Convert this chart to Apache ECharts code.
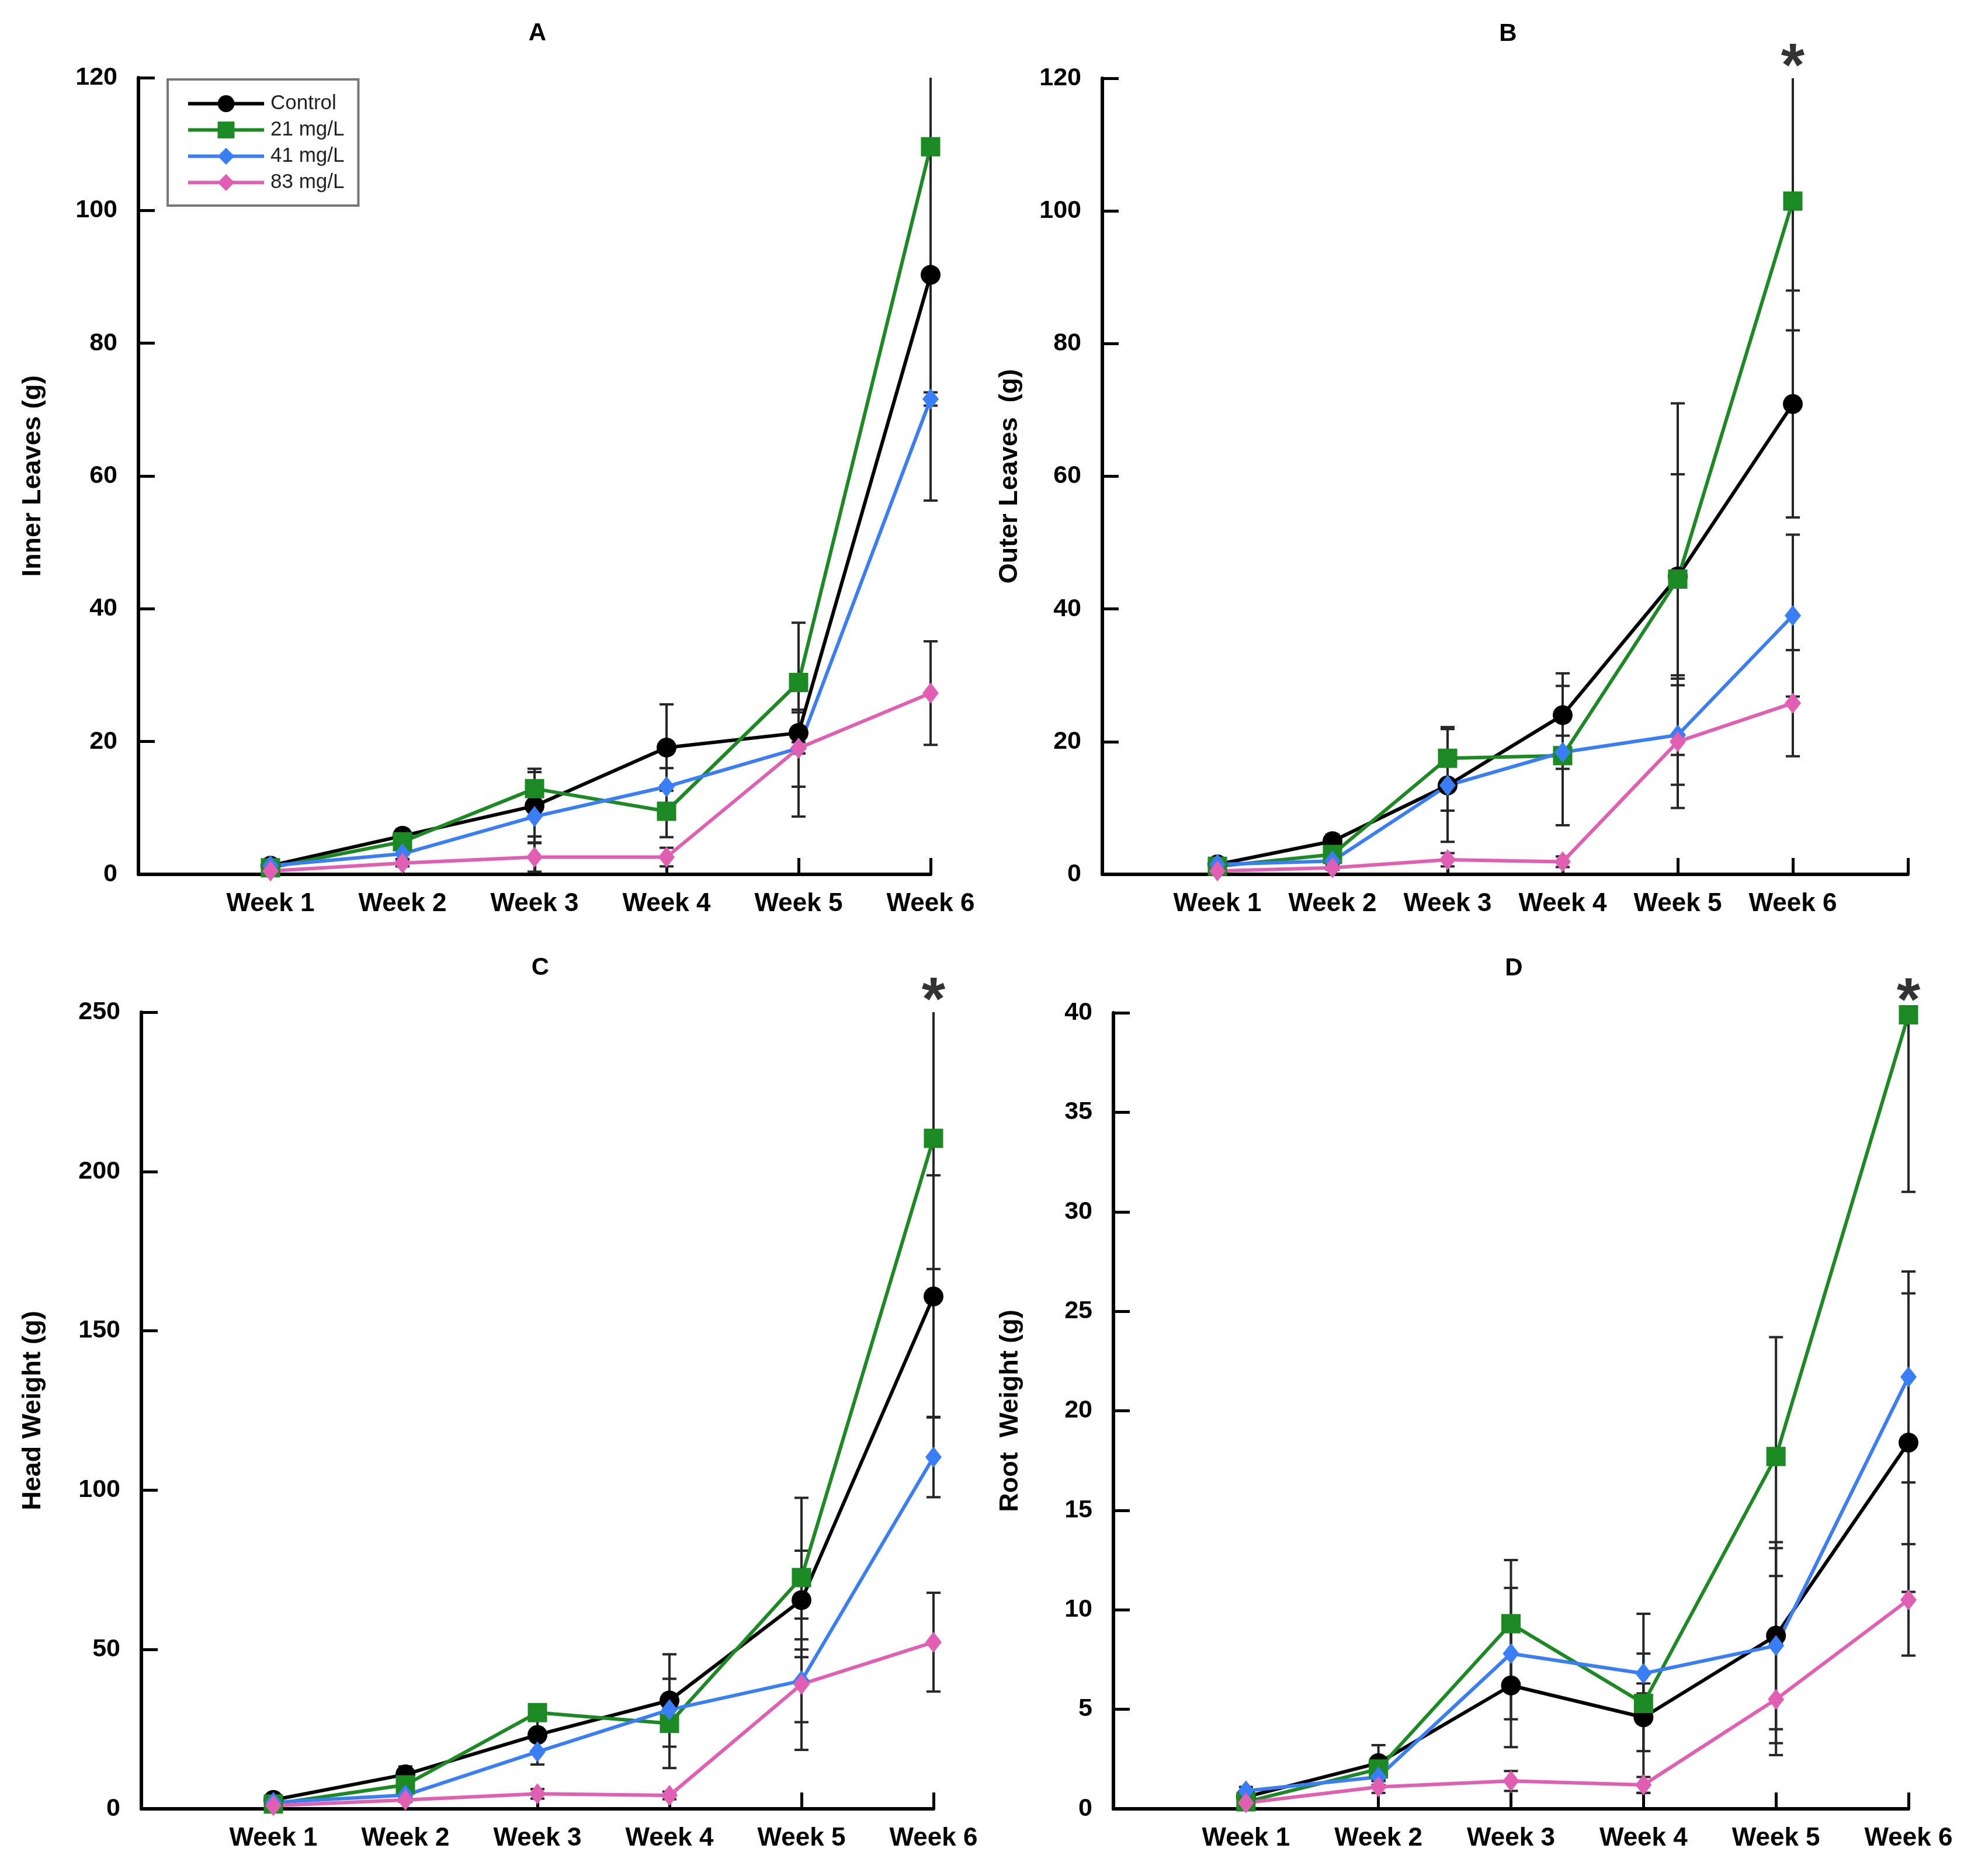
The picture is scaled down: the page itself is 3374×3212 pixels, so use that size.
<!DOCTYPE html>
<html>
<head>
<meta charset="utf-8">
<script src="https://cdn.jsdelivr.net/npm/echarts@6/dist/echarts.min.js"></script>
<style>
html, body { margin: 0; padding: 0; background: #fff; }
#main { width: 3374px; height: 3212px; }
</style>
</head>
<body>
<div id="main"></div>
<script>
var weeks = ['Week 1', 'Week 2', 'Week 3', 'Week 4', 'Week 5', 'Week 6'];
var groups = ['Control', '21 mg/L', '41 mg/L', '83 mg/L'];

// A - inner leaves (g), means and error bar half-lengths
var innerControl = [1.3, 5.8, 10.3, 19.1, 21.3, 90.3];
var inner21 = [1.0, 4.9, 12.9, 9.5, 28.9, 109.6];
var inner41 = [1.3, 3.1, 8.7, 13.2, 19.0, 71.6];
var inner83 = [0.5, 1.7, 2.6, 2.6, 19.0, 27.3];
var innerControlErr = [0.5, 1.0, 5.6, 6.5, 3.1, 34.0];
var inner21Err = [0.4, 0.8, 2.5, 3.9, 9.0, 1.0];
var inner41Err = [0.3, 0.8, 3.0, 2.8, 5.8, 1.0];
var inner83Err = [0.3, 0.5, 2.2, 1.4, 10.3, 7.8];

// B - outer leaves (g)
var outerControl = [1.5, 5.0, 13.4, 24.0, 44.9, 70.9];
var outer21 = [1.2, 3.0, 17.5, 17.9, 44.5, 101.5];
var outer41 = [1.5, 2.0, 13.4, 18.4, 21.0, 39.0];
var outer83 = [0.5, 1.0, 2.2, 1.9, 20.0, 25.8];
var outerControlErr = [0.4, 1.0, 8.5, 6.3, 15.4, 17.1];
var outer21Err = [0.3, 1.0, 4.7, 10.5, 26.5, 19.5];
var outer41Err = [0.3, 0.6, 3.8, 2.5, 7.5, 12.2];
var outer83Err = [0.2, 0.3, 1.0, 0.8, 10.0, 8.0];

// C - head weight (g)
var headControl = [2.8, 10.8, 23.2, 34.0, 65.5, 160.8];
var head21 = [1.5, 7.5, 30.2, 26.8, 72.6, 210.4];
var head41 = [2.0, 4.3, 17.9, 31.1, 40.2, 110.4];
var head83 = [1.0, 2.8, 4.7, 4.2, 39.1, 52.3];
var headControlErr = [0.8, 2.5, 5.0, 14.5, 15.5, 38.0];
var head21Err = [0.5, 2.0, 2.5, 14.0, 25.0, 41.0];
var head41Err = [0.5, 1.0, 4.0, 3.0, 13.0, 12.6];
var head83Err = [0.3, 0.6, 1.5, 1.2, 20.6, 15.5];

// D - root weight (g)
var rootControl = [0.6, 2.3, 6.2, 4.6, 8.7, 18.4];
var root21 = [0.35, 2.0, 9.3, 5.3, 17.7, 39.9];
var root41 = [0.9, 1.6, 7.8, 6.8, 8.2, 21.7];
var root83 = [0.3, 1.1, 1.4, 1.2, 5.5, 10.5];
var rootControlErr = [0.2, 0.9, 3.1, 1.7, 4.7, 7.5];
var root21Err = [0.1, 0.5, 3.2, 4.5, 6.0, 8.9];
var root41Err = [0.2, 0.4, 3.3, 1.0, 4.9, 5.3];
var root83Err = [0.1, 0.3, 0.5, 0.4, 2.8, 2.8];

var FONT = 'Liberation Sans, Arial, Helvetica, sans-serif';
var colors = ['#000000', '#1c8a22', '#3a7ef5', '#e05fb3'];
var symbols = ['circle', 'rect', 'diamond', 'diamond'];
var symbolSizes = [34, 33, [28, 36], [28, 36]];

var panels = [
    {title: 'A', name: 'Inner Leaves (g)', max: 120, interval: 20, xMax: 6, star: false, nameGap: 158,
     grid: {left: 237, top: 133, width: 1356, height: 1364},
     values: [innerControl, inner21, inner41, inner83],
     errors: [innerControlErr, inner21Err, inner41Err, inner83Err]},
    {title: 'B', name: 'Outer Leaves  (g)', max: 120, interval: 20, xMax: 7, star: true, nameGap: 136,
     grid: {left: 1887, top: 134, width: 1379, height: 1363},
     values: [outerControl, outer21, outer41, outer83],
     errors: [outerControlErr, outer21Err, outer41Err, outer83Err]},
    {title: 'C', name: 'Head Weight (g)', max: 250, interval: 50, xMax: 6, star: true, nameGap: 163,
     grid: {left: 242, top: 1733, width: 1356, height: 1364},
     values: [headControl, head21, head41, head83],
     errors: [headControlErr, head21Err, head41Err, head83Err]},
    {title: 'D', name: 'Root  Weight (g)', max: 40, interval: 5, xMax: 6, star: true, nameGap: 154,
     grid: {left: 1906, top: 1734, width: 1361, height: 1363},
     values: [rootControl, root21, root41, root83],
     errors: [rootControlErr, root21Err, root41Err, root83Err]}
];

function errorBars(yMax) {
    return function (params, api) {
        var x = api.value(0);
        var lo = Math.max(api.value(1), 0);
        var hi = api.value(2);
        var top = api.coord([x, Math.min(hi, yMax)]);
        var bot = api.coord([x, lo]);
        var style = {stroke: '#262626', lineWidth: 4};
        var kids = [{type: 'line', shape: {x1: top[0], y1: top[1], x2: bot[0], y2: bot[1]}, style: style}];
        if (hi <= yMax) {
            kids.push({type: 'line', shape: {x1: top[0] - 12, y1: top[1], x2: top[0] + 12, y2: top[1]}, style: style});
        }
        kids.push({type: 'line', shape: {x1: bot[0] - 12, y1: bot[1], x2: bot[0] + 12, y2: bot[1]}, style: style});
        return {type: 'group', children: kids};
    };
}

var grids = [], xAxes = [], yAxes = [], titles = [], series = [];

panels.forEach(function (p, i) {
    grids.push(p.grid);
    titles.push({
        text: p.title,
        left: p.grid.left + p.grid.width / 2,
        top: p.grid.top - 102,
        textAlign: 'center',
        textStyle: {fontFamily: FONT, fontSize: 42, fontWeight: 'bold', color: '#000'}
    });
    xAxes.push({
        type: 'value', gridIndex: i, min: 0, max: p.xMax, interval: 1,
        splitLine: {show: false},
        axisLine: {lineStyle: {color: '#000', width: 6}},
        axisTick: {inside: true, length: 28, lineStyle: {color: '#000', width: 5}},
        axisLabel: {
            margin: 29, fontFamily: FONT, fontSize: 44, fontWeight: 'bold', color: '#000',
            formatter: function (v) { return weeks[v - 1] || ''; }
        }
    });
    yAxes.push({
        type: 'value', gridIndex: i, min: 0, max: p.max, interval: p.interval,
        name: p.name, nameLocation: 'middle', nameGap: p.nameGap,
        nameTextStyle: {fontFamily: FONT, fontSize: 45, fontWeight: 'bold', color: '#000'},
        splitLine: {show: false},
        axisLine: {show: true, lineStyle: {color: '#000', width: 6}},
        axisTick: {show: true, inside: true, length: 28, lineStyle: {color: '#000', width: 5}},
        axisLabel: {margin: 36, fontFamily: FONT, fontSize: 43, fontWeight: 'bold', color: '#000'}
    });

    groups.forEach(function (g, j) {
        var vals = p.values[j], errs = p.errors[j];
        series.push({
            type: 'custom', name: g + ' error', xAxisIndex: i, yAxisIndex: i, z: 2, silent: true,
            renderItem: errorBars(p.max),
            encode: {x: 0, y: [1, 2]},
            data: weeks.map(function (w, k) { return [k + 1, vals[k] - errs[k], vals[k] + errs[k]]; })
        });
    });
    groups.forEach(function (g, j) {
        var vals = p.values[j];
        series.push({
            type: 'line', name: g, xAxisIndex: i, yAxisIndex: i, z: 3,
            symbol: symbols[j], symbolSize: symbolSizes[j], showAllSymbol: true,
            color: colors[j],
            lineStyle: {width: 6, color: colors[j]},
            itemStyle: {color: colors[j]},
            data: weeks.map(function (w, k) { return [k + 1, vals[k]]; })
        });
    });
    if (p.star) {
        series.push({
            type: 'scatter', name: 'sig', xAxisIndex: i, yAxisIndex: i, z: 4, silent: true,
            symbolSize: 1, itemStyle: {color: 'rgba(0,0,0,0)'},
            label: {show: true, formatter: '*', position: 'inside', offset: [0, -16],
                fontFamily: FONT, fontSize: 104, fontWeight: 'bold', color: '#000'},
            data: [[weeks.length, p.max]]
        });
    }
});

var myChart = echarts.init(document.getElementById('main'));
myChart.setOption({
    animation: false,
    backgroundColor: '#fff',
    title: titles,
    legend: {
        data: groups,
        orient: 'vertical',
        left: 287, top: 136,
        padding: [24, 24, 22, 32],
        itemGap: 10, itemWidth: 130, itemHeight: 36,
        borderColor: '#777', borderWidth: 4,
        lineStyle: {width: 6},
        textStyle: {fontFamily: FONT, fontSize: 35, color: '#222', padding: [0, 0, 0, 6]}
    },
    grid: grids,
    xAxis: xAxes,
    yAxis: yAxes,
    series: series
});
</script>
</body>
</html>
